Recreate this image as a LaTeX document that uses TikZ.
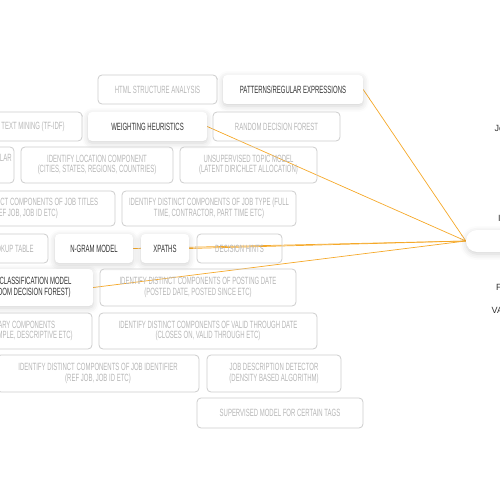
\documentclass[tikz,border=0pt]{standalone}
\usepackage{fontspec}
\setmainfont{Liberation Sans}[FakeStretch=0.57]
\newfontfamily\labelfont{Liberation Sans}
\usetikzlibrary{shadows.blur,backgrounds}
\definecolor{tagGray}{RGB}{204,204,204}
\definecolor{tagText}{RGB}{182,182,182}
\definecolor{keyText}{RGB}{51,51,51}
\definecolor{linkO}{RGB}{245,168,40}

\begin{document}
\begin{tikzpicture}[x=1pt,y=-1pt,
  dims/.style 2 args={minimum width=#1,minimum height=#2},
  tag/.style={draw=tagGray,line width=0.8pt,rounded corners=4pt,text=tagText,align=center,inner sep=0pt,font=\fontsize{10.5}{10.8}\selectfont},
  keytag/.style={fill=white,rounded corners=4pt,text=keyText,align=center,inner sep=0pt,font=\fontsize{10.5}{10.8}\selectfont,
    blur shadow={shadow xshift=0pt,shadow yshift=-2pt,shadow blur radius=6pt,shadow opacity=18}},
  rlabel/.style={anchor=west,inner sep=0pt,text=keyText,font=\labelfont\fontsize{9}{10}\selectfont},
  link/.style={linkO,line width=0.7pt}]
\useasboundingbox (0,0) rectangle (500,500);
% row 1
\node[tag,dims={119pt}{29pt}] (html) at (157.5,89.5) {HTML STRUCTURE ANALYSIS};
\node[keytag,dims={140pt}{29pt}] (patterns) at (293,89.5) {PATTERNS/REGULAR EXPRESSIONS};
% row 2
\node[tag,dims={98pt}{29pt}] (tfidf) at (33,126.5) {TEXT MINING (TF-IDF)};
\node[keytag,dims={119pt}{29pt}] (weighting) at (147.5,126.5) {WEIGHTING HEURISTICS};
\node[tag,dims={127pt}{29pt}] (forest) at (276.5,126.5) {RANDOM DECISION FOREST};
% row 3
\node[tag,dims={32pt}{36pt}] (tabular) at (-2,165) {TABULAR\\\strut};
\node[tag,dims={152pt}{36pt}] (location) at (97,165) {IDENTIFY LOCATION COMPONENT\\(CITIES, STATES, REGIONS, COUNTRIES)};
\node[tag,dims={137pt}{36pt}] (topic) at (248.5,165) {UNSUPERVISED TOPIC MODEL\\(LATENT DIRICHLET ALLOCATION)};
% row 4
\node[tag,dims={180pt}{35pt}] (titles) at (25,208.5) {IDENTIFY DISTINCT COMPONENTS OF JOB TITLES\\(REF JOB, JOB ID ETC)};
\node[tag,dims={174pt}{35pt}] (jobtype) at (209,208.5) {IDENTIFY DISTINCT COMPONENTS OF JOB TYPE (FULL\\TIME, CONTRACTOR, PART TIME ETC)};
% row 5
\node[tag,dims={74pt}{29pt}] (lookup) at (11,248.5) {LOOKUP TABLE};
\node[keytag,dims={78pt}{29pt}] (ngram) at (94,248.5) {N-GRAM MODEL};
\node[keytag,dims={48pt}{29pt}] (xpaths) at (165,248.5) {XPATHS};
\node[tag,dims={85pt}{29pt}] (hints) at (239.5,248.5) {DECISION HINTS};
% row 6
\node[keytag,dims={132pt}{37pt}] (classif) at (27,287.5) {TEXT CLASSIFICATION MODEL\\(RANDOM DECISION FOREST)};
\node[tag,dims={196pt}{37pt}] (posting) at (198,287.5) {IDENTIFY DISTINCT COMPONENTS OF POSTING DATE\\(POSTED DATE, POSTED SINCE ETC)};
% row 7
\node[tag,dims={142pt}{36pt}] (salary) at (21,331) {SALARY COMPONENTS\\(FOR EXAMPLE, DESCRIPTIVE ETC)};
\node[tag,dims={218pt}{36pt}] (valid) at (208,331) {IDENTIFY DISTINCT COMPONENTS OF VALID THROUGH DATE\\(CLOSES ON, VALID THROUGH ETC)};
% row 8
\node[tag,dims={202pt}{37pt}] (jobid) at (98,373.5) {IDENTIFY DISTINCT COMPONENTS OF JOB IDENTIFIER\\(REF JOB, JOB ID ETC)};
\node[tag,dims={134pt}{37pt}] (jobdesc) at (274,373.5) {JOB DESCRIPTION DETECTOR\\(DENSITY BASED ALGORITHM)};
% row 9
\node[tag,dims={166pt}{30pt}] (supervised) at (280,413) {SUPERVISED MODEL FOR CERTAIN TAGS};
% hub on the right
\node[keytag,rounded corners=11pt,dims={94pt}{22pt}] (hub) at (513,241) {};
\node[rlabel] (jo) at (494.5,128) {Jo};
\node[rlabel] (li) at (498,218) {I};
\node[rlabel] (fl) at (496,287) {F};
\node[rlabel] (va) at (491.5,310) {VA};
% links
\begin{scope}[on background layer]
\draw[link] (hub.west) -- (patterns.east);
\draw[link] (hub.west) -- (weighting.east);
\draw[link] (hub.west) -- (ngram.east);
\draw[link] (hub.west) -- (xpaths.east);
\draw[link] (hub.west) -- (classif.east);
\end{scope}
\end{tikzpicture}
\end{document}
